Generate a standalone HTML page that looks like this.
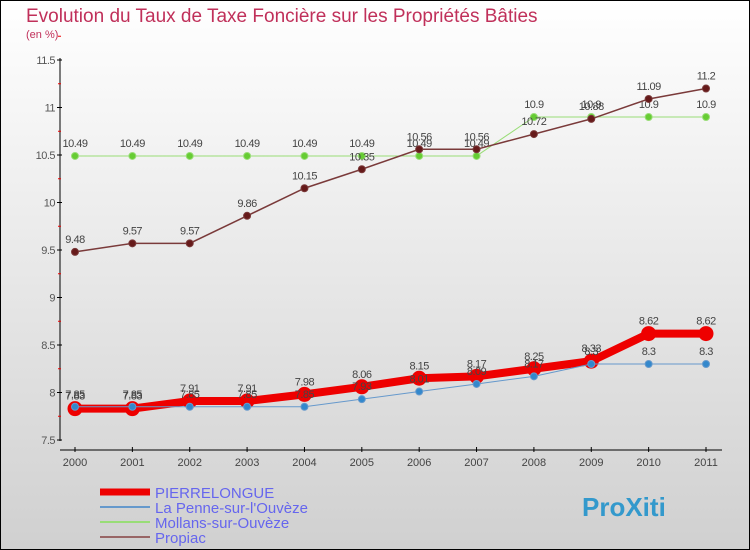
<!DOCTYPE html>
<html><head><meta charset="utf-8"><style>
body{margin:0;width:750px;height:550px;overflow:hidden;font-family:"Liberation Sans",sans-serif}
#c{position:absolute;left:0;top:0;width:748px;height:548px;border:1px solid #000;background:linear-gradient(#fff,#d0d0d0)}
</style></head><body>
<div id="c">
<svg id="s" width="750" height="550" style="position:absolute;left:-1px;top:-1px">
<text x="26" y="22" font-size="19" fill="#c0305a">Evolution du Taux de Taxe Foncière sur les Propriétés Bâties</text>
<text x="26" y="38" font-size="11" fill="#c0305a">(en %)</text>
</svg></div>
<script>
const years=["2000","2001","2002","2003","2004","2005","2006","2007","2008","2009","2010","2011"];
const yTicks=[7.5,8,8.5,9,9.5,10,10.5,11,11.5];
const pierre=[7.83,7.83,7.91,7.91,7.98,8.06,8.15,8.17,8.25,8.33,8.62,8.62];
const penne=[7.85,7.85,7.85,7.85,7.85,7.93,8.01,8.09,8.17,8.3,8.3,8.3];
const mollans=[10.49,10.49,10.49,10.49,10.49,10.49,10.49,10.49,10.9,10.9,10.9,10.9];
const propiac=[9.48,9.57,9.57,9.86,10.15,10.35,10.56,10.56,10.72,10.88,11.09,11.2];
const s=document.getElementById('s'),NS="http://www.w3.org/2000/svg";
const X=i=>75+i*(706-75)/11, Y=v=>440-(v-7.5)*95;
function mk(t,a,p){const e=document.createElementNS(NS,t);for(const k in a)e.setAttribute(k,a[k]);(p||s).appendChild(e);return e;}
// axes
let ax=mk('line',{x1:60,y1:58,x2:60,y2:441,stroke:'#000','stroke-width':1});


let xa=mk('line',{x1:60,y1:450,x2:722,y2:450,stroke:'#000','stroke-width':1});


yTicks.forEach(v=>{mk('line',{x1:57,x2:62,y1:Y(v),y2:Y(v),stroke:'#000'});
 mk('line',{x1:58,x2:61,y1:Y(v+0.25),y2:Y(v+0.25),stroke:'#e00'});
 const t=mk('text',{x:55,y:Y(v)+4,'text-anchor':'end','font-size':11,fill:'#555','letter-spacing':'-0.5'});t.textContent=String(v);
 
 });
years.forEach((y,i)=>{mk('line',{x1:X(i),x2:X(i),y1:447,y2:452,stroke:'#000'});
 const t=mk('text',{x:X(i),y:466,'text-anchor':'middle','font-size':11,fill:'#444'});t.textContent=y;
 
 });
function series(d,col,w,r,fill,name){
 const g=mk('g',{});
 
 
 mk('polyline',{points:d.map((v,i)=>X(i)+','+Y(v)).join(' '),fill:'none',stroke:col,'stroke-width':w},g);
 d.forEach((v,i)=>{const c=mk('circle',{cx:X(i),cy:Y(v),r:r,fill:fill,stroke:col,'stroke-width':1},g);
  
  
  const t=mk('text',{x:X(i),y:Y(v)-9,'text-anchor':'middle','font-size':11,fill:'#444','letter-spacing':'-0.5'},g);t.textContent=String(v);
  
  });
}
series(mollans,'#99dd77',1,3.5,'#66cc33','mollans-series');
series(propiac,'#7a3a3a',1.5,3.5,'#661a1a','propiac-series');
series(pierre,'#ee0000',8,7,'#ee0000','pierrelongue-series');
series(penne,'#6699cc',1,3.5,'#3388cc','la-penne-series');
// legend
const leg=[["PIERRELONGUE","#ee0000",7],["La Penne-sur-l'Ouvèze","#6699cc",2],["Mollans-sur-Ouvèze","#99dd77",2],["Propiac","#996666",2]];
leg.forEach((l,i)=>{const y=492+i*15;
 const ln=mk('line',{x1:100,x2:150,y1:y,y2:y,stroke:l[1],'stroke-width':l[2]});
 
 
 const t=mk('text',{x:155,y:y+6,'font-size':15,fill:'#6666ee'});t.textContent=l[0];
 
 });
const lg=mk('text',{x:582,y:516,'font-size':26,'font-weight':'bold',fill:'#3399cc'});lg.textContent="ProXiti";


</script>
</body></html>
